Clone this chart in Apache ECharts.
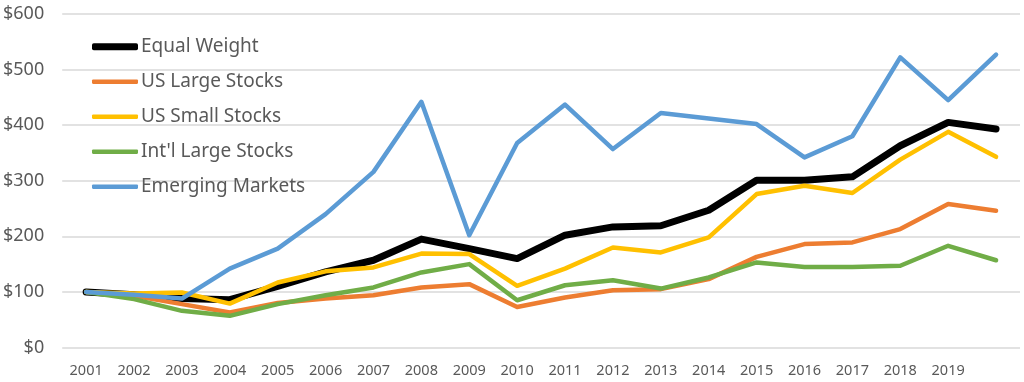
<!DOCTYPE html>
<html>
<head>
<meta charset="utf-8">
<script src="https://cdn.jsdelivr.net/npm/echarts@6/dist/echarts.min.js"></script>
<style>
html,body{margin:0;padding:0;background:#fff;}
#chart{width:1024px;height:382px;}
</style>
</head>
<body>
<div id="chart"></div>
<script>
var years = ['2001','2002','2003','2004','2005','2006','2007','2008','2009','2010','2011','2012','2013','2014','2015','2016','2017','2018','2019',''];
var equalWeight = [100,95,88,86,110,136,157,195,178,160,202,217,219,247,301,301,307,363,405,393];
var usLarge     = [100,93,78,63,80,88,94,108,114,73,90,103,105,123,163,186,189,213,258,246];
var usSmall     = [100,97,99,79,117,137,144,169,168,111,142,180,171,198,276,291,278,338,388,343];
var intlLarge   = [100,87,66,57,78,94,108,135,150,85,112,121,106,126,153,145,145,147,183,157];
var emerging    = [100,95,88,142,178,240,316,442,202,368,437,357,422,412,402,342,380,522,445,527];
var yTicks = [0,100,200,300,400,500,600];

var names = ['Equal Weight','US Large Stocks','US Small Stocks',"Int'l Large Stocks",'Emerging Markets'];
var values = [equalWeight, usLarge, usSmall, intlLarge, emerging];
var colors = ['#000000','#ED7D31','#FFC000','#70AD47','#5B9BD5'];
var widths = [7, 4.5, 4.5, 4.5, 4.5];
var fontFam = '"Noto Sans", sans-serif';

var legends = names.map(function(n, i){
  var center = 46.7 + 35 * i;
  return {
    data: [n],
    left: 92,
    top: center - 10,
    padding: 0,
    icon: 'roundRect',
    itemWidth: 46,
    itemHeight: widths[i],
    itemGap: 0,
    textStyle: {fontFamily: fontFam, fontSize: 19, color: '#595959', lineHeight: 20, padding: [0,0,0,-2]},
    selectedMode: false
  };
});

var chart = echarts.init(document.getElementById('chart'), null, {renderer: 'canvas'});
chart.setOption({
  animation: false,
  backgroundColor: '#ffffff',
  grid: {left: 61, right: 4, top: 14, bottom: 34.5, containLabel: false},
  legend: legends,
  xAxis: {
    type: 'category',
    data: years,
    boundaryGap: true,
    axisLine: {show: false},
    axisTick: {show: false},
    axisLabel: {color: '#595959', fontFamily: fontFam, fontSize: 14.5, margin: 16, interval: 0}
  },
  yAxis: {
    type: 'value',
    min: yTicks[0],
    max: yTicks[yTicks.length - 1],
    interval: 100,
    axisLine: {show: false},
    axisTick: {show: false},
    splitLine: {lineStyle: {color: '#d9d9d9', width: 1.5}},
    axisLabel: {color: '#595959', fontFamily: fontFam, fontSize: 18, margin: 18,
      formatter: function(v){ return '$' + v; }}
  },
  series: names.map(function(n, i){
    return {
      name: n,
      type: 'line',
      data: values[i],
      showSymbol: false,
      symbol: 'none',
      itemStyle: {color: colors[i]},
      lineStyle: {color: colors[i], width: widths[i], cap: 'round', join: 'round'}
    };
  })
});
</script>
</body>
</html>
